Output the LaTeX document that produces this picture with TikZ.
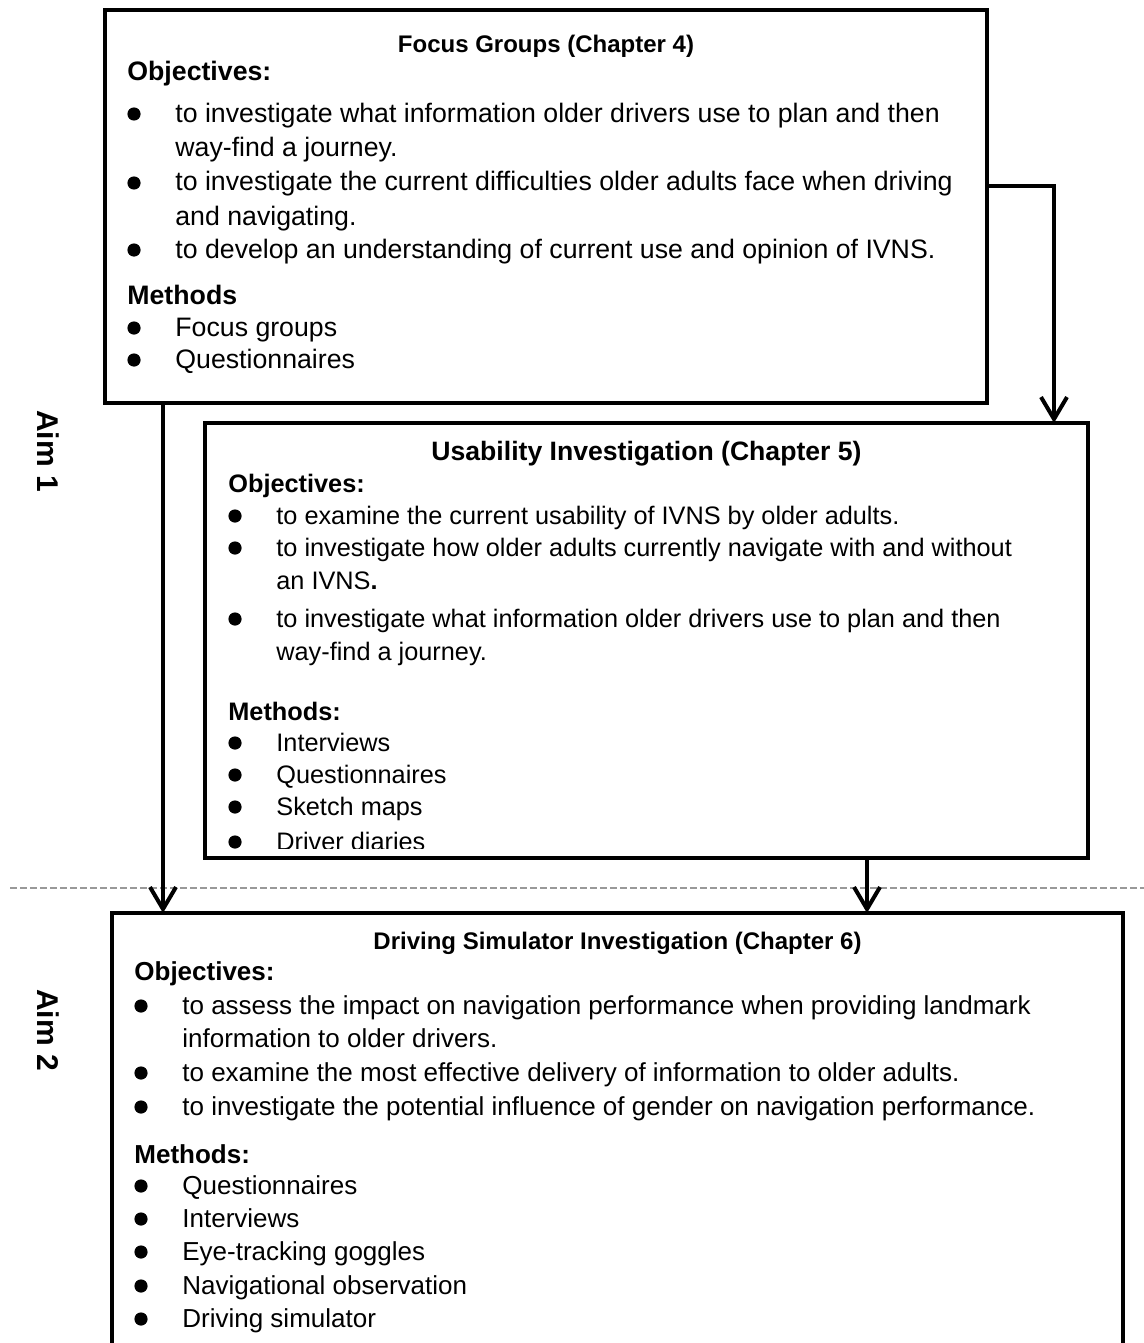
\documentclass[tikz,border=0pt]{standalone}
\usepackage{fontspec}
\setmainfont{Liberation Sans}
\usetikzlibrary{positioning,arrows.meta,calc}

\newcommand{\hd}[1]{\textbf{#1}}
\newcommand{\bl}[1]{\makebox[24pt][l]{\tikz[baseline=-4pt]\fill (3.2pt,0pt) circle[radius=3.3pt];}#1}
\newcommand{\ct}[1]{\hspace*{24pt}#1}

\begin{document}
\begin{tikzpicture}[x=0.5pt, y=-0.5pt,
  stage/.style={draw, line width=2pt, inner sep=0pt, outer sep=0pt, anchor=north west},
  boxtitle/.style={anchor=base, inner sep=0pt, font=\bfseries\fontsize{#1}{14}\selectfont},
  boxtitle/.default=12,
  rowtext/.style={anchor=base west, inner sep=0pt, font=\fontsize{#1}{16}\selectfont},
  rowtext/.default=13,
  aim/.style={rotate=-90, font=\bfseries\fontsize{15}{18}\selectfont},
  flow/.style={line width=2pt, -{Straight Barb[length=11pt, width=13pt]}}]
  \useasboundingbox (0,0) rectangle (1144,1343);
  \clip (0,0) rectangle (1144,1343);

  % the three studies
  \node[stage, minimum width=441pt, minimum height=196.5pt] (fg) at (105,10) {};
  \node[stage, minimum width=441.5pt, minimum height=217.5pt] (ui) at (205,423) {};
  \node[stage, minimum width=505.5pt, minimum height=240pt] (ds) at (112,913) {};

  \node[boxtitle] (fgtitle) at ($(fg.north)+(0,43)$) {Focus Groups (Chapter 4)};
  \node[boxtitle=13.3] (uititle) at ($(ui.north)+(0,37)$) {Usability Investigation (Chapter 5)};
  \node[boxtitle] (dstitle) at ($(ds.north)+(0,36)$) {Driving Simulator Investigation (Chapter 6)};

  \foreach \y/\txt [count=\i] in {71/\hd{Objectives:},
      112/\bl{to investigate what information older drivers use to plan and then},
      146/\ct{way-find a journey.},
      181/\bl{to investigate the current difficulties older adults face when driving},
      215/\ct{and navigating.},
      248/\bl{to develop an understanding of current use and opinion of IVNS.},
      294/\hd{Methods},
      326/\bl{Focus groups},
      358/\bl{Questionnaires}}
    \node[rowtext=13.35] (fgrow\i) at ($(fg.north west)+(22,\y)$) {\txt};

  \begin{scope}
    \clip (ui.north west) rectangle ($(ui.south east)+(0,-10)$);
    \foreach \y/\txt [count=\i] in {69/\hd{Objectives:},
        101/\bl{to examine the current usability of IVNS by older adults.},
        133/\bl{to investigate how older adults currently navigate with and without},
        166/\ct{an IVNS\textbf{.}},
        204/\bl{to investigate what information older drivers use to plan and then},
        237/\ct{way-find a journey.},
        297/\hd{Methods:},
        328/\bl{Interviews},
        360/\bl{Questionnaires},
        392/\bl{Sketch maps},
        427/\bl{Driver diaries}}
      \node[rowtext=12.65] (uirow\i) at ($(ui.north west)+(23,\y)$) {\txt};
  \end{scope}

  \foreach \y/\txt [count=\i] in {67/\hd{Objectives:},
      101/\bl{to assess the impact on navigation performance when providing landmark},
      134/\ct{information to older drivers.},
      168/\bl{to examine the most effective delivery of information to older adults.},
      202/\bl{to investigate the potential influence of gender on navigation performance.},
      250/\hd{Methods:},
      281/\bl{Questionnaires},
      314/\bl{Interviews},
      347/\bl{Eye-tracking goggles},
      381/\bl{Navigational observation},
      414/\bl{Driving simulator}}
    \node[rowtext] (dsrow\i) at ($(ds.north west)+(22,\y)$) {\txt};

  % aims and the line between them
  \node[aim] (aim1) at (48,451) {Aim 1};
  \node[aim] (aim2) at (48,1030) {Aim 2};
  \draw[gray!80, line width=0.8pt, dash pattern=on 3.5pt off 1.5pt] (10,888) -- (1144,888);

  % arrows
  \coordinate (fgout) at ($(fg.south west)+(58,0)$);
  \coordinate (uiout) at ($(ui.south west)+(662,0)$);
  \draw[flow] (fgout) -- (fgout |- ds.north);
  \draw[flow] ($(fg.east)+(0,-20.5)$) -| ($(ui.north east)+(-34,0)$);
  \draw[flow] (uiout) -- (uiout |- ds.north);
\end{tikzpicture}
\end{document}
